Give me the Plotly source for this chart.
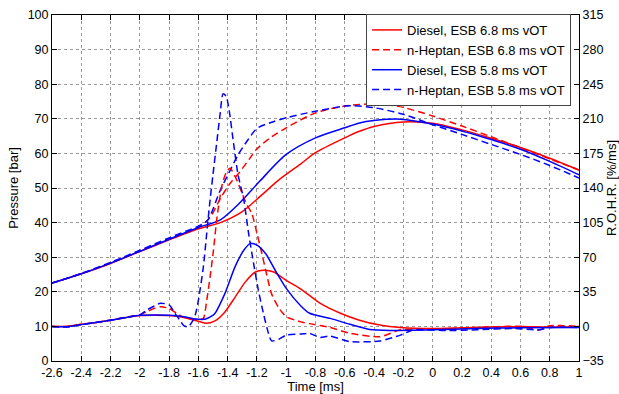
import plotly.graph_objects as go

# ---------------- Data ----------------
# Pressure [bar] (left axis)
t_p_d68 = [-2.6, -2.4, -2.2, -2.0, -1.8, -1.6, -1.45, -1.3, -1.18, -1.06, -0.9, -0.8, -0.6, -0.5, -0.4, -0.2, 0, 0.2, 0.4, 0.6, 0.8, 1.0]
p_d68 = [22.5, 25.2, 28.2, 31.6, 35.0, 38.2, 40.0, 43.2, 47.5, 52.0, 57.0, 60.2, 64.5, 66.4, 67.8, 69.1, 68.7, 66.8, 64.4, 61.7, 58.6, 55.2]

t_p_h68 = [-2.6, -2.4, -2.2, -2.0, -1.8, -1.6, -1.52, -1.45, -1.38, -1.32, -1.25, -1.2, -1.1, -1.0, -0.8, -0.6, -0.43, -0.3, -0.2, 0, 0.2, 0.4, 0.6, 0.8, 1.0]
p_h68 = [22.5, 25.2, 28.3, 31.8, 35.3, 38.5, 41.5, 47.0, 51.5, 54.5, 58.5, 61.3, 64.8, 67.4, 71.7, 73.7, 74.3, 74.0, 73.3, 70.8, 67.9, 64.8, 61.6, 58.4, 55.2]

t_p_d58 = [-2.6, -2.4, -2.2, -2.0, -1.8, -1.6, -1.45, -1.32, -1.18, -1.0, -0.8, -0.6, -0.5, -0.4, -0.22, 0, 0.2, 0.4, 0.6, 0.8, 1.0]
p_d58 = [22.5, 25.2, 28.3, 31.7, 35.2, 38.6, 40.8, 45.6, 52.0, 59.7, 64.5, 67.4, 68.8, 69.5, 69.9, 68.5, 66.5, 64.0, 61.2, 57.7, 53.8]

t_p_h58 = [-2.6, -2.4, -2.2, -2.0, -1.8, -1.6, -1.54, -1.45, -1.39, -1.33, -1.26, -1.2, -1.1, -1.0, -0.8, -0.6, -0.55, -0.4, -0.2, 0, 0.2, 0.4, 0.6, 0.8, 1.0]
p_h58 = [22.5, 25.3, 28.5, 32.0, 35.6, 39.0, 40.5, 49.4, 54.5, 59.5, 64.0, 67.2, 69.0, 70.3, 72.2, 73.7, 73.8, 73.2, 71.3, 68.3, 65.5, 62.6, 59.7, 56.5, 52.9]

# Rate of heat release [%/ms] (right axis)
t_r_d68 = [-2.6, -2.5, -2.4, -2.3, -2.2, -2.1, -2.0, -1.9, -1.8, -1.7, -1.62, -1.55, -1.49, -1.42, -1.35, -1.28, -1.21, -1.155, -1.085, -1.0, -0.9, -0.77, -0.63, -0.5, -0.36, -0.22, 0, 0.2, 0.4, 0.6, 0.8, 1.0]
r_d68 = [0, 0, 2.1, 3.9, 6.3, 8.8, 10.9, 11.2, 10.9, 9.1, 6.0, 3.2, 5.3, 14.4, 29.4, 44.8, 55.0, 56.7, 55.0, 46.6, 37.8, 23.5, 13.3, 6.3, 1.4, -1.1, -2.1, -1.4, -0.7, 0, -0.7, 0]

t_r_h68 = [-2.6, -2.5, -2.4, -2.3, -2.2, -2.1, -2.0, -1.95, -1.9, -1.86, -1.8, -1.75, -1.7, -1.65, -1.6, -1.566, -1.543, -1.52, -1.497, -1.475, -1.44, -1.41, -1.384, -1.34, -1.3, -1.27, -1.234, -1.2, -1.166, -1.13, -1.1, -1.05, -1.0, -0.9, -0.84, -0.7, -0.565, -0.36, -0.22, 0, 0.3, 0.6, 0.73, 0.8, 1.0]
r_h68 = [0, 0, 2.1, 3.9, 6.3, 9.1, 11.6, 15.1, 18.2, 20.0, 18.2, 13.3, 9.1, 7.7, 7.0, 8.1, 26.3, 50.1, 77.0, 107.8, 141.8, 155.8, 160.0, 148.8, 134.1, 123.6, 113.8, 94.2, 73.5, 50.1, 32.9, 18.6, 9.8, 4.6, 2.8, -1.1, -7.0, -10.5, -3.5, -3.2, -1.1, 0, -3.5, 0.7, 0]

t_r_d58 = [-2.6, -2.5, -2.4, -2.3, -2.2, -2.1, -2.0, -1.9, -1.8, -1.7, -1.62, -1.55, -1.49, -1.42, -1.35, -1.29, -1.245, -1.2, -1.14, -1.075, -1.0, -0.9, -0.84, -0.7, -0.565, -0.43, -0.29, 0, 0.3, 0.6, 1.0]
r_d58 = [0, -0.4, 1.8, 3.9, 6.3, 8.8, 11.2, 11.6, 11.2, 9.8, 7.4, 7.4, 12.6, 32.9, 60.2, 77.0, 84.0, 82.3, 73.5, 56.7, 38.5, 20.7, 13.3, 8.1, 2.1, -3.2, -4.2, -3.5, -2.1, -1.4, -1.1]

t_r_h58 = [-2.6, -2.5, -2.4, -2.3, -2.2, -2.1, -2.0, -1.95, -1.9, -1.86, -1.8, -1.76, -1.73, -1.7, -1.67, -1.64, -1.62, -1.6, -1.566, -1.543, -1.52, -1.5, -1.475, -1.45, -1.432, -1.41, -1.39, -1.36, -1.33, -1.29, -1.257, -1.223, -1.19, -1.155, -1.12, -1.1, -1.05, -1.0, -0.9, -0.84, -0.77, -0.7, -0.565, -0.36, -0.22, -0.13, 0.1, 0.3, 0.55, 0.73, 0.8, 1.0]
r_h58 = [0, -0.7, 1.8, 3.9, 6.3, 9.1, 11.6, 16.8, 20.7, 23.5, 21.7, 13.3, 7.0, 0.7, -0.4, 5.3, 12.3, 26.3, 60.2, 94.2, 128.1, 154.0, 185.5, 217.0, 235.2, 232.8, 218.8, 185.5, 154.0, 128.1, 94.2, 63.7, 36.4, 12.6, -7.7, -14.7, -13.0, -8.8, -7.7, -7.0, -11.2, -9.8, -15.4, -14.7, -8.8, -3.5, -4.2, -3.5, -2.1, -3.5, -1.1, -1.1]

names = ["Diesel, ESB 6.8 ms vOT", "n-Heptan, ESB 6.8 ms vOT", "Diesel, ESB 5.8 ms vOT", "n-Heptan, ESB 5.8 ms vOT"]

x_ticks = [-2.6, -2.4, -2.2, -2.0, -1.8, -1.6, -1.4, -1.2, -1.0, -0.8, -0.6, -0.4, -0.2, 0, 0.2, 0.4, 0.6, 0.8, 1.0]
x_ticktext = ["-2.6", "-2.4", "-2.2", "-2", "-1.8", "-1.6", "-1.4", "-1.2", "-1", "-0.8", "-0.6", "-0.4", "-0.2", "0", "0.2", "0.4", "0.6", "0.8", "1"]
y_ticks = [0, 10, 20, 30, 40, 50, 60, 70, 80, 90, 100]
y2_ticks = [-35, 0, 35, 70, 105, 140, 175, 210, 245, 280, 315]

# ---------------- Figure ----------------
RED = "#FF0000"
BLUE = "#0000FF"
DASH = "7px,4px"
styles = [(RED, "solid"), (RED, DASH), (BLUE, "solid"), (BLUE, DASH)]
p_sets = [(t_p_d68, p_d68), (t_p_h68, p_h68), (t_p_d58, p_d58), (t_p_h58, p_h58)]
r_sets = [(t_r_d68, r_d68), (t_r_h68, r_h68), (t_r_d58, r_d58), (t_r_h58, r_h58)]

fig = go.Figure()
for i, (name, (col, dash)) in enumerate(zip(names, styles)):
    tp, pv = p_sets[i]
    fig.add_trace(go.Scatter(x=tp, y=pv, mode="lines", name=name, legendgroup=name,
                             line=dict(color=col, width=1.5, dash=dash, shape="spline", smoothing=0.8)))
for i, (name, (col, dash)) in enumerate(zip(names, styles)):
    tr, rv = r_sets[i]
    fig.add_trace(go.Scatter(x=tr, y=rv, mode="lines", name=name, legendgroup=name, showlegend=False,
                             yaxis="y2",
                             line=dict(color=col, width=1.5, dash=dash, shape="spline", smoothing=0.6)))

FONT = "Liberation Sans, Arial, sans-serif"
fig.update_layout(
    width=619, height=394,
    margin=dict(l=52, r=40, t=15, b=33, autoexpand=False),
    paper_bgcolor="white", plot_bgcolor="white",
    font=dict(family=FONT, size=12, color="black"),
    showlegend=True,
    legend=dict(x=0.985, y=1.003, xanchor="right", yanchor="top",
                bgcolor="white", bordercolor="#444", borderwidth=1,
                font=dict(size=13, family=FONT), tracegroupgap=0,
                itemwidth=30),
    xaxis=dict(range=[-2.6, 1.0], tickvals=x_ticks, ticktext=x_ticktext, automargin=False,
               showgrid=True, gridcolor="#9a9a9a", griddash="dot", gridwidth=1,
               showline=True, linecolor="black", linewidth=1, mirror="ticks",
               ticks="inside", ticklen=5, tickcolor="black",
               zeroline=False,
               title=dict(text="Time [ms]", font=dict(size=13), standoff=0),
               tickfont=dict(size=12.5)),
    yaxis=dict(range=[0, 100], tickvals=y_ticks, automargin=False,
               showgrid=True, gridcolor="#9a9a9a", griddash="dot", gridwidth=1,
               showline=True, linecolor="black", linewidth=1,
               ticks="inside", ticklen=5, tickcolor="black", zeroline=False,
               title=dict(text="Pressure [bar]", font=dict(size=13), standoff=6),
               tickfont=dict(size=12.5)),
    yaxis2=dict(range=[-35, 315], tickvals=y2_ticks, overlaying="y", side="right", automargin=False,
                showgrid=False, showline=True, linecolor="black", linewidth=1,
                ticks="inside", ticklen=5, tickcolor="black", zeroline=False,
                title=dict(text="R.O.H.R. [%/ms]", font=dict(size=13), standoff=4),
                tickfont=dict(size=12.5)),
)

fig.write_html("out.html")
